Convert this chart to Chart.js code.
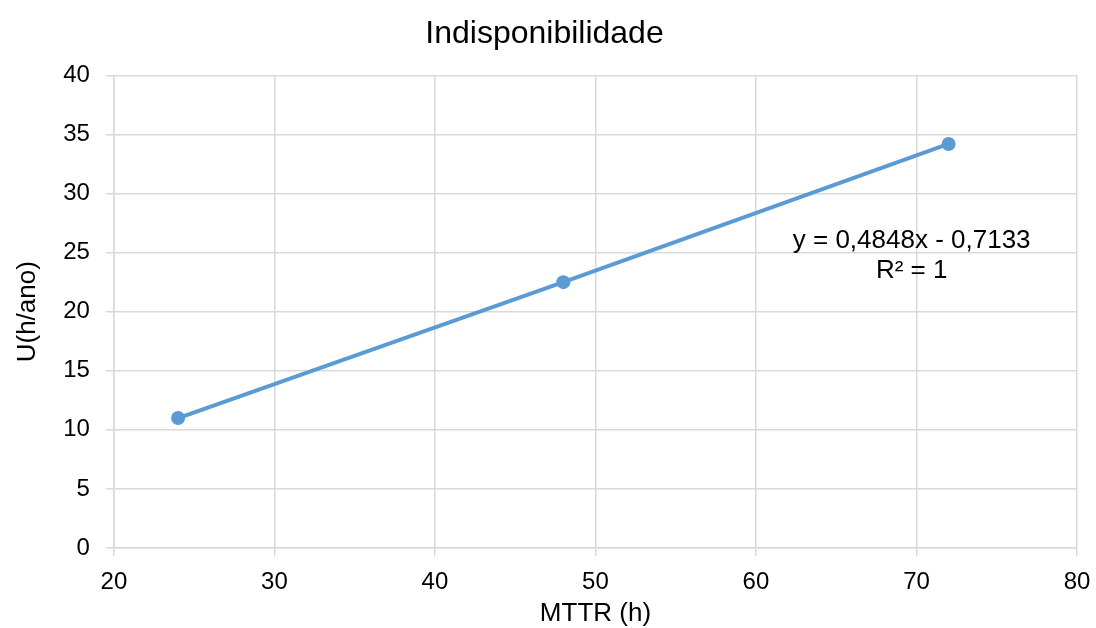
<!DOCTYPE html>
<html><head><meta charset="utf-8">
<script src="https://cdn.jsdelivr.net/npm/chart.js@4"></script>
<style>html,body{margin:0;padding:0;background:#fff}#wrap{width:1096px;height:628px}</style>
</head><body><div id="wrap"><canvas id="c" width="1096" height="628"></canvas></div>
<script>
const mttr = [24, 48, 72];
const unavail = [11.0, 22.5, 34.2];
const trendX = [24, 72];
const trendY = [10.92, 34.19];
const xTicks = [20, 30, 40, 50, 60, 70, 80];
const yTicks = [0, 5, 10, 15, 20, 25, 30, 35, 40];
const eqLines = ['y = 0,4848x - 0,7133', 'R² = 1'];
const eqPos = [{x: 69.7, y: 26.0}, {x: 69.7, y: 23.45}];

const FONT = "'Liberation Sans', Arial, sans-serif";
const eqPlugin = {
  id: 'eq',
  afterDatasetsDraw(chart) {
    const {ctx, scales} = chart;
    ctx.save();
    ctx.font = '26px ' + FONT;
    ctx.fillStyle = '#000';
    ctx.textAlign = 'center';
    ctx.textBaseline = 'middle';
    eqLines.forEach((t, i) => {
      ctx.fillText(t, scales.x.getPixelForValue(eqPos[i].x), scales.y.getPixelForValue(eqPos[i].y));
    });
    ctx.restore();
  }
};

new Chart(document.getElementById('c'), {
  type: 'scatter',
  data: {
    datasets: [
      {
        data: trendX.map((x, i) => ({x, y: trendY[i]})),
        showLine: true, borderColor: '#5B9BD5', borderWidth: 2, borderDash: [2, 2],
        pointRadius: 0, fill: false
      },
      {
        data: mttr.map((x, i) => ({x, y: unavail[i]})),
        showLine: true, borderColor: '#5B9BD5', borderWidth: 4,
        pointRadius: 7, pointBackgroundColor: '#5B9BD5', pointBorderColor: '#5B9BD5',
        pointBorderWidth: 0, fill: false
      }
    ]
  },
  options: {
    responsive: false, animation: false, devicePixelRatio: 1,
    layout: {padding: {left: 12, right: 19, top: 0, bottom: 0}},
    plugins: {
      legend: {display: false}, tooltip: {enabled: false},
      title: {display: true, text: 'Indisponibilidade', color: '#000',
        font: {family: FONT, size: 32, weight: 'normal'}, padding: {top: 15, bottom: 22}}
    },
    scales: {
      x: {
        type: 'linear', min: 20, max: 80,
        afterBuildTicks: s => { s.ticks = xTicks.map(v => ({value: v})); },
        afterFit: s => { s.paddingRight = 0; s.paddingLeft = 0; },
        ticks: {color: '#000', font: {family: FONT, size: 24}, padding: 12},
        grid: {color: '#d9d9d9', lineWidth: 1.5, drawTicks: true, tickLength: 8},
        border: {color: '#d9d9d9', width: 1.5},
        title: {display: true, text: 'MTTR (h)', color: '#000', font: {family: FONT, size: 26}, padding: {top: -11, bottom: -1}}
      },
      y: {
        type: 'linear', min: 0, max: 40,
        afterBuildTicks: s => { s.ticks = yTicks.map(v => ({value: v})); },
        ticks: {color: '#000', font: {family: FONT, size: 24}, padding: 16},
        grid: {color: '#d9d9d9', lineWidth: 1.5, drawTicks: true, tickLength: 8},
        border: {color: '#d9d9d9', width: 1.5},
        title: {display: true, text: 'U(h/ano)', color: '#000', font: {family: FONT, size: 26}, padding: {top: 0, bottom: 4}}
      }
    }
  },
  plugins: [eqPlugin]
});
</script></body></html>
